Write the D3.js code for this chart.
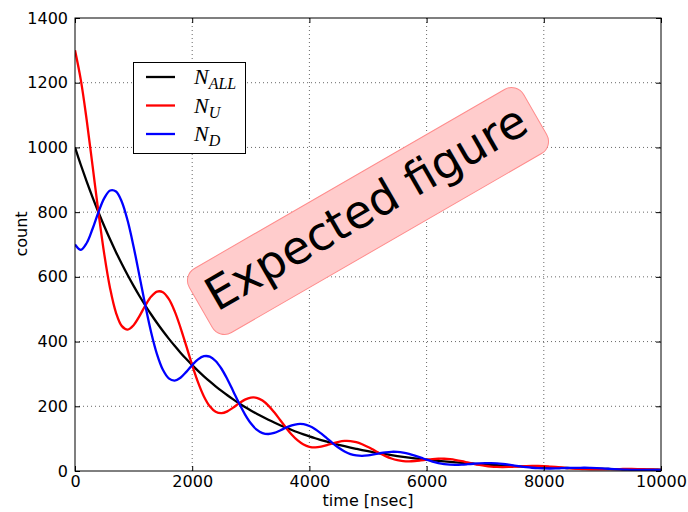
<!DOCTYPE html>
<html>
<head>
<meta charset="utf-8">
<script src="https://cdn.jsdelivr.net/npm/d3@7"></script>
<style>
  body { margin: 0; background: #fff; }
  text { font-family: "DejaVu Sans", sans-serif; }
</style>
</head>
<body>
<script>
// Datos (cada 100 ns)
const tiempos = d3.range(0, 10001, 100);

const nAll = [1000,945.7,894.3,845.7,799.7,756.3,715.2,676.3,639.6,604.8,
  572.0,540.9,511.5,483.7,457.4,432.6,409.1,386.9,365.8,346.0,
  327.2,309.4,292.6,276.7,261.6,247.4,234.0,221.3,209.3,197.9,
  187.1,177.0,167.4,158.3,149.7,141.5,133.9,126.6,119.7,113.2,
  107.0,101.2,95.7,90.5,85.6,81.0,76.6,72.4,68.5,64.7,
  61.2,57.9,54.8,51.8,49.0,46.3,43.8,41.4,39.2,37.1,
  35.0,33.1,31.3,29.6,28.0,26.5,25.1,23.7,22.4,21.2,
  20.0,18.9,17.9,16.9,16.0,15.2,14.3,13.6,12.8,12.1,
  11.5,10.8,10.2,9.7,9.2,8.7,8.2,7.8,7.3,6.9,
  6.6,6.2,5.9,5.5,5.2,5.0,4.7,4.4,4.2,4.0,
  3.7];

const nU = [1300,1207.9,1084.0,942.8,799.7,669.5,563.5,488.8,447.7,437.2,
  450.7,478.8,511.5,539.2,554.4,552.5,531.8,494.1,443.4,385.7,
  327.2,273.9,230.5,200.0,183.1,178.8,184.4,195.9,209.3,220.6,
  226.8,226.1,217.6,202.2,181.5,157.7,133.9,112.1,94.3,81.8,
  74.9,73.1,75.4,80.1,85.6,90.3,92.8,92.5,89.1,82.6,
  74.2,64.5,54.8,45.9,38.6,33.5,30.7,29.9,30.9,32.8,
  35.0,36.9,37.9,37.8,36.4,33.8,30.4,26.4,22.4,18.8,
  15.8,13.7,12.5,12.2,12.6,13.5,14.3,15.2,15.5,15.5,
  15.0,13.8,12.4,10.8,9.2,7.7,6.5,5.6,5.1,5.0,
  5.2,5.5,5.9,6.1,6.3,6.4,6.1,5.6,5.1,4.5,
  3.7];

const nD = [700,683.6,704.6,748.6,799.7,843.1,866.9,863.8,831.5,772.4,
  693.3,603.0,511.5,428.2,360.4,312.7,286.4,279.6,288.2,306.3,
  327.2,344.9,354.7,353.4,340.1,316.0,283.6,246.7,209.3,175.2,
  147.4,127.9,117.2,114.4,117.9,125.3,133.9,141.1,145.1,144.6,
  139.1,129.3,116.0,100.9,85.6,71.7,60.4,52.3,48.0,46.8,
  48.2,51.3,54.8,57.7,59.4,59.1,56.9,52.9,47.5,41.4,
  35.0,29.3,24.7,21.4,19.6,19.2,19.8,21.0,22.4,23.6,
  24.2,24.1,23.3,21.6,19.4,16.9,14.3,12.0,10.1,8.7,
  8.1,7.8,8.0,8.6,9.2,9.7,9.9,10.0,9.5,8.8,
  8.0,6.9,5.9,4.9,4.1,3.6,3.3,3.2,3.3,3.5,
  3.7];

const ticksX = [0, 2000, 4000, 6000, 8000, 10000];
const ticksY = [0, 200, 400, 600, 800, 1000, 1200, 1400];

const series = [
  { id: "ALL", valores: nAll, color: "#000000" },
  { id: "U", valores: nU, color: "#ff0000" },
  { id: "D", valores: nD, color: "#0000ff" },
];

const W = 688, H = 512;
const m = { left: 75, top: 18, right: 27, bottom: 41 };
const ancho = W - m.left - m.right;
const alto = H - m.top - m.bottom;

const svg = d3.select("body")
  .append("svg")
  .attr("width", W)
  .attr("height", H);

const x = d3.scaleLinear().domain([0, 10000]).range([0, ancho]);
const y = d3.scaleLinear().domain([0, 1400]).range([alto, 0]);

const g = svg.append("g").attr("transform", `translate(${m.left},${m.top})`);

svg.append("defs").append("clipPath").attr("id", "clip")
  .append("rect").attr("width", ancho).attr("height", alto);

// Grilla punteada
const grilla = g.append("g")
  .attr("stroke", "#000")
  .attr("stroke-width", 0.6)
  .attr("stroke-dasharray", "1,3");
grilla.selectAll(".gx").data(ticksX.slice(1, -1)).join("line")
  .attr("x1", d => x(d)).attr("x2", d => x(d))
  .attr("y1", 0).attr("y2", alto);
grilla.selectAll(".gy").data(ticksY.slice(1, -1)).join("line")
  .attr("y1", d => y(d)).attr("y2", d => y(d))
  .attr("x1", 0).attr("x2", ancho);

// Curvas
const linea = d3.line()
  .x((d, i) => x(tiempos[i]))
  .y(d => y(d))
  .curve(d3.curveCatmullRom);

g.append("g").attr("clip-path", "url(#clip)")
  .selectAll("path").data(series).join("path")
  .attr("d", d => linea(d.valores))
  .attr("fill", "none")
  .attr("stroke", d => d.color)
  .attr("stroke-width", 2.3);

// Ejes con ticks hacia adentro en los cuatro lados
const fmt = d3.format("d");
g.append("g").attr("transform", `translate(0,${alto})`)
  .call(d3.axisBottom(x).tickValues(ticksX).tickFormat(fmt).tickSizeInner(-5).tickSizeOuter(0).tickPadding(5));
g.append("g")
  .call(d3.axisLeft(y).tickValues(ticksY).tickFormat(fmt).tickSizeInner(-5).tickSizeOuter(0).tickPadding(7));
g.append("g")
  .call(d3.axisTop(x).tickValues(ticksX).tickSizeInner(-5).tickSizeOuter(0).tickFormat(""));
g.append("g").attr("transform", `translate(${ancho},0)`)
  .call(d3.axisRight(y).tickValues(ticksY).tickSizeInner(-5).tickSizeOuter(0).tickFormat(""));

g.selectAll(".domain").remove();
g.selectAll(".tick line").attr("stroke", "#000").attr("stroke-width", 1);
g.selectAll(".tick text")
  .attr("fill", "#000")
  .style("font-family", "'DejaVu Sans', sans-serif")
  .style("font-size", "16px");

g.append("rect")
  .attr("width", ancho).attr("height", alto)
  .attr("fill", "none").attr("stroke", "#000").attr("stroke-width", 1);

// Titulos de ejes
svg.append("text")
  .attr("x", m.left + ancho / 2).attr("y", 506)
  .attr("text-anchor", "middle")
  .style("font-size", "16px")
  .text("time [nsec]");

svg.append("text")
  .attr("transform", "translate(27,234) rotate(-90)")
  .attr("text-anchor", "middle")
  .style("font-size", "16px")
  .text("count");

// Leyenda
const ley = svg.append("g");
ley.append("rect")
  .attr("x", 133.5).attr("y", 62.5).attr("width", 112).attr("height", 91)
  .attr("fill", "#fff").attr("stroke", "#000").attr("stroke-width", 1);

const items = ley.selectAll("g").data(series).join("g")
  .attr("transform", (d, i) => `translate(0,${77 + i * 28.5})`);
items.append("line")
  .attr("x1", 146).attr("x2", 175)
  .attr("stroke", d => d.color).attr("stroke-width", 2.3);
const t = items.append("text")
  .attr("x", 194).attr("y", 7)
  .style("font-family", "'Liberation Serif', serif")
  .style("font-style", "italic")
  .style("font-size", "22px");
t.append("tspan").text("N");
t.append("tspan")
  .attr("dy", 5)
  .style("font-size", "16px")
  .text(d => d.id);

// Anotacion rotada
const nota = svg.append("g").attr("transform", "translate(368,211) rotate(-30)");
nota.append("rect")
  .attr("x", -193).attr("y", -37).attr("width", 386).attr("height", 74)
  .attr("rx", 14).attr("ry", 14)
  .attr("fill", "#ffcccc").attr("stroke", "#ff8c8c").attr("stroke-width", 1);
nota.append("text")
  .attr("text-anchor", "middle")
  .attr("y", 12)
  .style("font-size", "46px")
  .text("Expected figure");
</script>
</body>
</html>
